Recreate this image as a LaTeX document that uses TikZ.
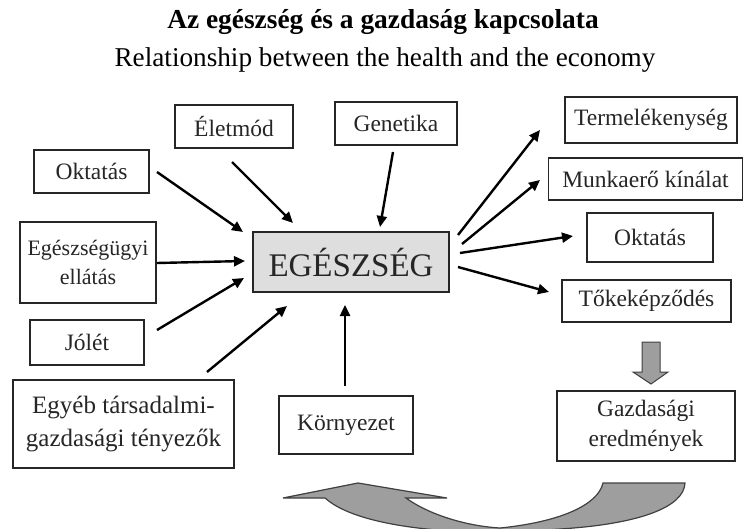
\documentclass[tikz,border=0pt]{standalone}
\usepackage{fontspec}
\setmainfont{Liberation Serif}
\usetikzlibrary{arrows.meta}
\begin{document}
\begin{tikzpicture}[x=1pt,y=-1pt,
  box/.style={draw=black!85,line width=1.6pt,fill=white,inner sep=2pt,align=center,
    font=\fontsize{23.5}{30}\selectfont,text=black!85},
  arr/.style={line width=2.4pt,-{Triangle[length=11pt,width=10pt]},black},
  grayarrow/.style={fill=black!38,draw=black!75,line width=1pt,line join=miter}]
\useasboundingbox (0,0) rectangle (744,529);
% titles
\node[anchor=base,font=\bfseries\fontsize{27.4}{30}\selectfont] (t1) at (383,29) {Az egészség és a gazdaság kapcsolata};
\node[anchor=base,font=\fontsize{27.2}{30}\selectfont] (t2) at (385,67) {Relationship between the health and the economy};
% boxes
\node[box,minimum width=115pt,minimum height=43pt] (okl) at (91.5,171.5) {Oktatás};
\node[box,minimum width=118pt,minimum height=43pt] (elet) at (234,126.5) {Életmód};
\node[box,minimum width=122pt,minimum height=43pt] (gen) at (396,123.5) {Genetika};
\node[box,minimum width=136pt,minimum height=81pt,font=\fontsize{22}{29}\selectfont] (egu) at (88,262.5) {Egészségügyi\\ellátás};
\node[box,minimum width=114pt,minimum height=45pt] (jol) at (87,342.5) {Jólét};
\node[box,minimum width=221pt,minimum height=88pt,font=\fontsize{25}{33}\selectfont] (egy) at (123.5,424) {Egyéb társadalmi-\\gazdasági tényezők};
\node[box,fill=black!13,minimum width=196pt,minimum height=60pt,font=\fontsize{33}{36}\selectfont] (health) at (351,262) {EGÉSZSÉG};
\node[box,minimum width=134pt,minimum height=58pt] (korny) at (346,425) {Környezet};
\node[box,minimum width=172pt,minimum height=46pt] (term) at (651,120) {Termelékenység};
\node[box,minimum width=194pt,minimum height=42pt] (munk) at (645.5,179) {Munkaerő kínálat};
\node[box,minimum width=126pt,minimum height=49pt] (okr) at (650,237.5) {Oktatás};
\node[box,minimum width=169pt,minimum height=42pt] (toke) at (646.5,301) {Tőkeképződés};
\node[box,minimum width=178pt,minimum height=70pt,font=\fontsize{23.5}{30}\selectfont] (gazd) at (646,426) {Gazdasági\\eredmények};
% arrow end points
\coordinate (a1s) at (157,172); \coordinate (a1e) at (243,232);
\coordinate (a2s) at (157,263); \coordinate (a2e) at (245,261);
\coordinate (a3s) at (157,330); \coordinate (a3e) at (244,278);
\coordinate (a4s) at (207,372); \coordinate (a4e) at (287,306);
\coordinate (a5s) at (232,162); \coordinate (a5e) at (293,223);
\coordinate (a6s) at (393,152); \coordinate (a6e) at (380,227);
\coordinate (a7s) at (345,386); \coordinate (a7e) at (345,305);
\coordinate (b1s) at (458,235); \coordinate (b1e) at (540,130);
\coordinate (b2s) at (462,244); \coordinate (b2e) at (540,180);
\coordinate (b3s) at (460,253); \coordinate (b3e) at (573,236);
\coordinate (b4s) at (458,267); \coordinate (b4e) at (549,292);
\draw[arr] (a1s) -- (a1e);
\draw[arr] (a2s) -- (a2e);
\draw[arr] (a3s) -- (a3e);
\draw[arr] (a4s) -- (a4e);
\draw[arr] (a5s) -- (a5e);
\draw[arr] (a6s) -- (a6e);
\draw[arr] (a7s) -- (a7e);
\draw[arr] (b1s) -- (b1e);
\draw[arr] (b2s) -- (b2e);
\draw[arr] (b3s) -- (b3e);
\draw[arr] (b4s) -- (b4e);
% gray down arrow
\draw[grayarrow] (642,342) -- (660,342) -- (660,372) -- (668,372) -- (651,384) -- (633,372) -- (642,372) -- cycle;
% big curved arrow
\draw[grayarrow,line width=1.2pt] (283,498) -- (358,483) -- (447,498) -- (406,498)
  .. controls (428,514) and (465,526) .. (500,528)
  .. controls (560,522) and (598,505) .. (603,483)
  -- (685,483)
  .. controls (684,507) and (640,524) .. (560,529)
  .. controls (520,532) and (470,532) .. (450,531)
  .. controls (390,527) and (345,516) .. (325,498)
  -- cycle;
\end{tikzpicture}
\end{document}
